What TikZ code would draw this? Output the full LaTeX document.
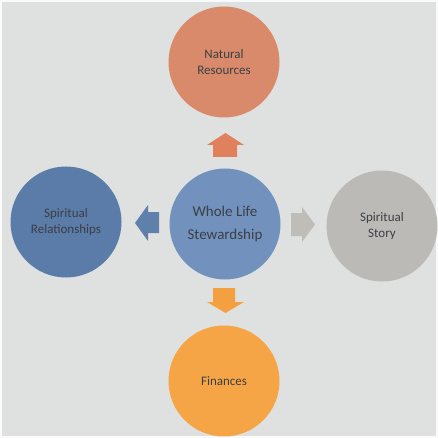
\documentclass[tikz,border=0pt]{standalone}
\usepackage{fontspec}
\setmainfont{Carlito}
\definecolor{bgc}{HTML}{DFE1E1}
\definecolor{topc}{HTML}{D98A6A}
\definecolor{topa}{HTML}{E0805C}
\definecolor{midc}{HTML}{7292BD}
\definecolor{leftc}{HTML}{5B7BA8}
\definecolor{lefta}{HTML}{6080AC}
\definecolor{rightc}{HTML}{BBBAB6}
\definecolor{righta}{HTML}{BEBDB8}
\definecolor{botc}{HTML}{F5A545}
\definecolor{bota}{HTML}{F5A040}
\definecolor{txt}{HTML}{3B3F46}
\tikzset{
  bubble/.style={circle, minimum size=111pt, inner sep=0pt, text=txt, align=center,
    font=\fontsize{13}{16.5}\selectfont},
  bigbubble/.style={bubble, font=\fontsize{15}{23}\selectfont},
}
\begin{document}
\begin{tikzpicture}[x=1pt,y=-1pt]
\useasboundingbox (0,0) rectangle (438,438);
\fill[bgc] (0,0) rectangle (438,438);
\draw[white!85!bgc, line width=2pt] (1,1) rectangle (437,437);
% circles
\node[bigbubble, fill=midc]   (mid)   at (225,224) {Whole Life\\Stewardship};
\node[bubble, fill=topc]   (top)   at (224,62)  {Natural\\Resources};
\node[bubble, fill=leftc]  (left)  at (66,222)  {Spiritual\\Relationships};
\node[bubble, fill=rightc] (right) at (382,226) {Spiritual\\Story};
\node[bubble, fill=botc]   (bot)   at (224,381) {Finances};
% block arrows
\fill[topa] (213,157) -- (213,145) -- (207,145) -- (225.5,133) -- (244,145) -- (237,145) -- (237,157) -- cycle;
\fill[bota] (213,288) -- (213,302) -- (207,302) -- (225.5,313) -- (244,302) -- (235,302) -- (235,288) -- cycle;
\fill[lefta] (159,212) -- (148,212) -- (148,205) -- (135,223) -- (148,241) -- (148,233) -- (159,233) -- cycle;
\fill[righta] (291,213) -- (302,213) -- (302,207) -- (315,224.5) -- (302,242) -- (302,236) -- (291,236) -- cycle;
\end{tikzpicture}
\end{document}
